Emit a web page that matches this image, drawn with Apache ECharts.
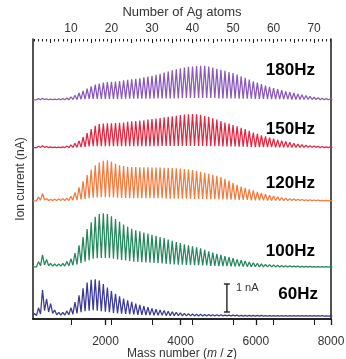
<!DOCTYPE html>
<html>
<head>
<meta charset="utf-8">
<script src="https://cdn.jsdelivr.net/npm/echarts@6/dist/echarts.min.js"></script>
<style>
  html, body { margin: 0; padding: 0; background: #fff; }
  #chart { width: 346px; height: 359px; }
</style>
</head>
<body>
<div id="chart"></div>
<script>
// mass of one Ag atom (m/z)
const AG = 107.87;
const MASS_MIN = 70;
const MASS_MAX = 8000;

const massTicks = [2000, 4000, 6000, 8000];
const atomTicks = [10, 20, 30, 40, 50, 60, 70];

const labels = ['180Hz', '150Hz', '120Hz', '100Hz', '60Hz'];
const colors = ['#8a57ba', '#e3263f', '#f27a3c', '#23875c', '#3b3897'];
const baselines = [7.83, 6.12, 4.22, 1.85, 0.1];

// peak heights (nA above baseline) for n = 1..74 Ag atoms
const peaks180 = [
  0.02, 0.04, 0.05, 0.03, 0.02, 0.02, 0.03, 0.04, 0.06, 0.10,
  0.16, 0.24, 0.32, 0.40, 0.48, 0.54, 0.58, 0.61, 0.63, 0.64,
  0.65, 0.67, 0.69, 0.71, 0.73, 0.75, 0.77, 0.80, 0.83, 0.86,
  0.89, 0.93, 0.97, 1.01, 1.05, 1.09, 1.12, 1.15, 1.18, 1.19,
  1.20, 1.21, 1.21, 1.19, 1.15, 1.11, 1.07, 1.03, 0.99, 0.95,
  0.90, 0.84, 0.78, 0.72, 0.66, 0.61, 0.56, 0.51, 0.46, 0.42,
  0.38, 0.34, 0.30, 0.27, 0.24, 0.21, 0.18, 0.15, 0.12, 0.09,
  0.07, 0.05, 0.04, 0.03
];
const troughs180 = [
  0, 0, 0.01, 0, 0, 0, 0, 0, 0, 0.01,
  0.01, 0.02, 0.02, 0.03, 0.03, 0.03, 0.03, 0.03, 0.03, 0.03,
  0.03, 0.03, 0.04, 0.04, 0.04, 0.04, 0.04, 0.04, 0.04, 0.04,
  0.05, 0.05, 0.05, 0.05, 0.05, 0.05, 0.06, 0.06, 0.06, 0.06,
  0.06, 0.06, 0.06, 0.06, 0.06, 0.05, 0.05, 0.05, 0.05, 0.05,
  0.04, 0.04, 0.04, 0.04, 0.03, 0.03, 0.03, 0.03, 0.02, 0.02,
  0.02, 0.02, 0.02, 0.01, 0.01, 0.01, 0.01, 0.01, 0.01, 0.01,
  0, 0, 0, 0
];

const peaks150 = [
  0.02, 0.05, 0.07, 0.04, 0.03, 0.02, 0.02, 0.03, 0.06, 0.10,
  0.16, 0.24, 0.38, 0.52, 0.66, 0.78, 0.84, 0.86, 0.87, 0.87,
  0.88, 0.89, 0.90, 0.92, 0.94, 0.95, 0.97, 0.98, 1.00, 1.02,
  1.04, 1.06, 1.08, 1.10, 1.12, 1.14, 1.16, 1.18, 1.19, 1.20,
  1.19, 1.17, 1.13, 1.10, 1.05, 1.00, 0.95, 0.90, 0.86, 0.81,
  0.76, 0.71, 0.66, 0.60, 0.54, 0.49, 0.44, 0.40, 0.36, 0.32,
  0.28, 0.25, 0.22, 0.19, 0.16, 0.13, 0.11, 0.09, 0.07, 0.06,
  0.05, 0.04, 0.03, 0.03
];
const troughs150 = [
  0, 0.01, 0.01, 0, 0, 0, 0, 0, 0, 0.01,
  0.01, 0.02, 0.03, 0.04, 0.05, 0.05, 0.05, 0.05, 0.05, 0.05,
  0.05, 0.05, 0.05, 0.05, 0.05, 0.05, 0.05, 0.05, 0.05, 0.05,
  0.05, 0.06, 0.06, 0.06, 0.06, 0.06, 0.06, 0.06, 0.06, 0.06,
  0.06, 0.06, 0.05, 0.05, 0.05, 0.05, 0.04, 0.04, 0.04, 0.04,
  0.03, 0.03, 0.03, 0.03, 0.02, 0.02, 0.02, 0.02, 0.02, 0.01,
  0.01, 0.01, 0.01, 0.01, 0.01, 0.01, 0.01, 0.01, 0.01, 0.01,
  0, 0, 0, 0
];

const peaks120 = [
  0.04, 0.14, 0.26, 0.08, 0.05, 0.06, 0.07, 0.08, 0.10, 0.16,
  0.30, 0.48, 0.70, 0.92, 1.12, 1.27, 1.37, 1.43, 1.45, 1.40,
  1.32, 1.27, 1.24, 1.22, 1.21, 1.21, 1.20, 1.20, 1.20, 1.19,
  1.19, 1.19, 1.18, 1.18, 1.17, 1.16, 1.15, 1.14, 1.12, 1.10,
  1.07, 1.04, 1.00, 0.97, 0.93, 0.89, 0.85, 0.79, 0.72, 0.64,
  0.57, 0.51, 0.46, 0.41, 0.37, 0.32, 0.28, 0.24, 0.20, 0.17,
  0.14, 0.12, 0.10, 0.08, 0.07, 0.06, 0.05, 0.04, 0.04, 0.03,
  0.03, 0.02, 0.02, 0.02
];
const troughs120 = [
  0, 0.02, 0.03, 0.01, 0.01, 0.01, 0.01, 0.01, 0.01, 0.02,
  0.03, 0.05, 0.07, 0.09, 0.11, 0.12, 0.13, 0.13, 0.13, 0.12,
  0.11, 0.10, 0.10, 0.09, 0.09, 0.09, 0.09, 0.09, 0.09, 0.09,
  0.09, 0.09, 0.08, 0.08, 0.08, 0.08, 0.08, 0.08, 0.07, 0.07,
  0.07, 0.07, 0.06, 0.06, 0.06, 0.05, 0.05, 0.05, 0.04, 0.04,
  0.03, 0.03, 0.03, 0.02, 0.02, 0.02, 0.02, 0.01, 0.01, 0.01,
  0.01, 0.01, 0.01, 0.01, 0.01, 0.01, 0.01, 0.01, 0.01, 0.01,
  0, 0, 0, 0
];

const peaks100 = [
  0.05, 0.20, 0.44, 0.28, 0.14, 0.12, 0.12, 0.14, 0.20, 0.30,
  0.50, 0.78, 1.08, 1.36, 1.60, 1.80, 1.90, 1.93, 1.90, 1.82,
  1.72, 1.62, 1.52, 1.44, 1.37, 1.32, 1.28, 1.24, 1.20, 1.16,
  1.12, 1.08, 1.04, 0.99, 0.94, 0.90, 0.86, 0.82, 0.78, 0.75,
  0.71, 0.67, 0.62, 0.57, 0.52, 0.48, 0.44, 0.40, 0.36, 0.32,
  0.28, 0.25, 0.22, 0.19, 0.16, 0.14, 0.12, 0.10, 0.09, 0.08,
  0.07, 0.06, 0.05, 0.05, 0.04, 0.04, 0.03, 0.03, 0.03, 0.02,
  0.02, 0.02, 0.02, 0.02
];
const troughs100 = [
  0.01, 0.05, 0.08, 0.05, 0.04, 0.04, 0.04, 0.04, 0.05, 0.07,
  0.10, 0.14, 0.20, 0.25, 0.30, 0.32, 0.33, 0.33, 0.32, 0.30,
  0.28, 0.26, 0.24, 0.22, 0.20, 0.19, 0.18, 0.17, 0.16, 0.15,
  0.14, 0.13, 0.12, 0.11, 0.10, 0.09, 0.09, 0.08, 0.08, 0.07,
  0.07, 0.06, 0.06, 0.05, 0.05, 0.04, 0.04, 0.04, 0.03, 0.03,
  0.03, 0.02, 0.02, 0.02, 0.02, 0.01, 0.01, 0.01, 0.01, 0.01,
  0.01, 0.01, 0.01, 0.01, 0.01, 0, 0, 0, 0, 0,
  0, 0, 0, 0
];

const peaks60 = [
  0.10, 0.30, 0.93, 0.62, 0.45, 0.22, 0.14, 0.14, 0.18, 0.30,
  0.50, 0.75, 1.00, 1.20, 1.30, 1.32, 1.27, 1.15, 1.02, 0.90,
  0.80, 0.71, 0.63, 0.57, 0.51, 0.45, 0.40, 0.36, 0.32, 0.28,
  0.25, 0.22, 0.20, 0.18, 0.16, 0.14, 0.12, 0.10, 0.09, 0.08,
  0.07, 0.07, 0.06, 0.06, 0.05, 0.05, 0.05, 0.04, 0.04, 0.04,
  0.04, 0.03, 0.03, 0.03, 0.03, 0.03, 0.03, 0.02, 0.02, 0.02,
  0.02, 0.02, 0.02, 0.02, 0.02, 0.02, 0.02, 0.02, 0.02, 0.02,
  0.02, 0.02, 0.01, 0.01
];
const troughs60 = [
  0.02, 0.08, 0.20, 0.15, 0.10, 0.05, 0.04, 0.04, 0.05, 0.07,
  0.10, 0.14, 0.18, 0.20, 0.21, 0.20, 0.18, 0.16, 0.14, 0.12,
  0.10, 0.09, 0.08, 0.07, 0.06, 0.05, 0.05, 0.04, 0.04, 0.03,
  0.03, 0.03, 0.02, 0.02, 0.02, 0.02, 0.01, 0.01, 0.01, 0.01,
  0.01, 0.01, 0.01, 0.01, 0.01, 0.01, 0.01, 0.01, 0.01, 0.01,
  0, 0, 0, 0, 0, 0, 0, 0, 0, 0,
  0, 0, 0, 0, 0, 0, 0, 0, 0, 0,
  0, 0, 0, 0
];

const peakSets = [peaks180, peaks150, peaks120, peaks100, peaks60];
const troughSets = [troughs180, troughs150, troughs120, troughs100, troughs60];

// one peak per Ag_n cluster, trough half an atom further
function trace(base, peaks, troughs) {
  let pts = [[MASS_MIN, base + troughs[0]]];
  for (let i = 0; i < peaks.length; i++) {
    let n = i + 1;
    pts.push([n * AG, base + peaks[i]]);
    pts.push([(n + 0.5) * AG, base + troughs[i]]);
  }
  return pts;
}

const FONT = 'Liberation Sans, Arial, sans-serif';
const axisColor = '#1a1a1a';
const textColor = '#333';

let atomAll = [];
let atomFives = [];
for (let n = 1; n <= 74; n++) {
  atomAll.push(n);
  if (n % 5 === 0) atomFives.push(n);
}

function topAxis(ticks, len, withLabels) {
  return {
    type: 'value',
    position: 'top',
    min: MASS_MIN / AG,
    max: MASS_MAX / AG,
    axisLine: { show: withLabels, lineStyle: { color: axisColor, width: 1.5 } },
    axisTick: { show: true, inside: true, length: len, customValues: ticks,
                lineStyle: { color: axisColor, width: 1 } },
    axisLabel: { show: withLabels, customValues: ticks, margin: 4,
                 fontSize: 12, color: textColor, fontFamily: FONT,
                 formatter: (v) => String(Math.round(v)) },
    splitLine: { show: false },
    name: withLabels ? 'Number of Ag atoms' : '',
    nameLocation: 'middle',
    nameGap: 20,
    nameMoveOverlap: false,
    nameTextStyle: { fontSize: 13, color: textColor, fontFamily: FONT }
  };
}

let series = [];
for (let i = 0; i < labels.length; i++) {
  series.push({
    name: labels[i],
    type: 'line',
    xAxisIndex: 0,
    yAxisIndex: 0,
    showSymbol: false,
    silent: true,
    animation: false,
    lineStyle: { color: colors[i], width: 1.25 },
    data: trace(baselines[i], peakSets[i], troughSets[i])
  });
}

const option = {
  animation: false,
  grid: { left: 33, right: 15, top: 39, bottom: 40, outerBoundsMode: 'none', containLabel: false },
  xAxis: [
    {
      type: 'value',
      position: 'bottom',
      min: MASS_MIN,
      max: MASS_MAX,
      axisLine: { lineStyle: { color: axisColor, width: 1.5 } },
      axisTick: { show: true, length: 6, customValues: massTicks,
                  lineStyle: { color: axisColor, width: 1.3 } },
      axisLabel: { customValues: massTicks, margin: 17, fontSize: 12,
                   color: textColor, fontFamily: FONT,
                   formatter: (v) => String(Math.round(v)) },
      splitLine: { show: false },
      name: '{n|Mass number (}{i|m}{n| / }{i|z}{n|)}',
      nameLocation: 'middle',
      nameGap: 29,
      nameMoveOverlap: false,
      nameTextStyle: {
        rich: {
          n: { fontSize: 12, color: textColor, fontFamily: FONT },
          i: { fontSize: 12, color: textColor, fontFamily: FONT, fontStyle: 'italic' }
        }
      }
    },
    topAxis(atomTicks, 6, true),
    topAxis(atomFives, 4, false),
    topAxis(atomAll, 2.5, false)
  ],
  yAxis: [
    {
      type: 'value',
      min: 0,
      max: 10,
      axisLine: { show: true, lineStyle: { color: axisColor, width: 1.5 } },
      axisTick: { show: false },
      axisLabel: { show: false },
      splitLine: { show: false },
      name: 'Ion current (nA)',
      nameLocation: 'middle',
      nameGap: 6,
      nameMoveOverlap: false,
      nameTextStyle: { fontSize: 12, color: textColor, fontFamily: FONT }
    },
    {
      type: 'value',
      position: 'right',
      min: 0,
      max: 10,
      axisLine: { show: true, lineStyle: { color: axisColor, width: 1.5 } },
      axisTick: { show: false },
      axisLabel: { show: false },
      splitLine: { show: false }
    }
  ],
  series: series
};

const chart = echarts.init(document.getElementById('chart'), null, { renderer: 'canvas' });
chart.setOption(option);

// frequency labels and 1 nA scale bar
const labelY = [70, 129, 183, 251, 294];
const labelRight = [315, 315, 315, 315, 318];
let graphic = [];
for (let i = 0; i < labels.length; i++) {
  graphic.push({
    type: 'text',
    x: labelRight[i],
    y: labelY[i],
    style: {
      text: labels[i],
      fill: '#000',
      font: 'bold 17px ' + FONT,
      textAlign: 'right',
      textVerticalAlign: 'middle'
    }
  });
}
const barMass = 5230;
const p0 = chart.convertToPixel({ xAxisIndex: 0, yAxisIndex: 0 }, [barMass, 0.25]);
const p1 = chart.convertToPixel({ xAxisIndex: 0, yAxisIndex: 0 }, [barMass, 1.25]);
const barStyle = { stroke: '#111', lineWidth: 1.3 };
graphic.push({ type: 'line', shape: { x1: p0[0], y1: p0[1], x2: p1[0], y2: p1[1] }, style: barStyle });
graphic.push({ type: 'line', shape: { x1: p0[0] - 3, y1: p0[1], x2: p0[0] + 3, y2: p0[1] }, style: barStyle });
graphic.push({ type: 'line', shape: { x1: p1[0] - 3, y1: p1[1], x2: p1[0] + 3, y2: p1[1] }, style: barStyle });
graphic.push({
  type: 'text',
  x: p0[0] + 9,
  y: (p0[1] + p1[1]) / 2 - 10,
  style: { text: '1 nA', fill: '#333', font: '11px ' + FONT, textVerticalAlign: 'middle' }
});
chart.setOption({ graphic: graphic });
</script>
</body>
</html>
